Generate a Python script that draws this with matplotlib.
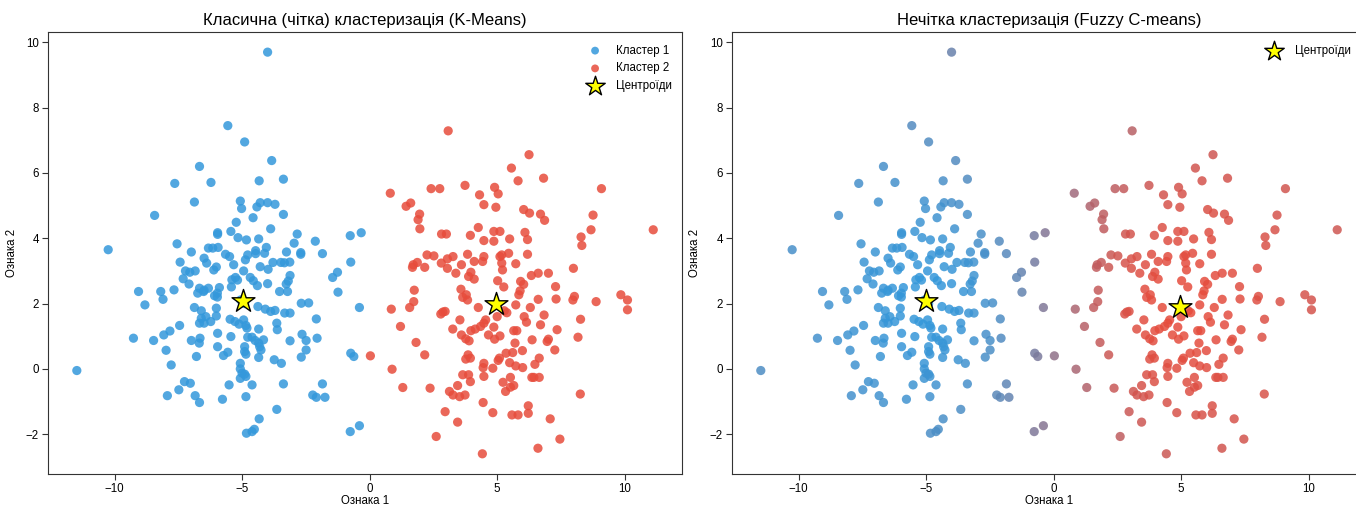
import matplotlib
matplotlib.use("Agg")
import matplotlib.pyplot as plt
import matplotlib.colors as mcolors
import numpy as np

plt.rcParams['font.family'] = ['Liberation Sans', 'DejaVu Sans']

# Кластер 1 (blue)
c1_x = [-4.0, -5.56, -4.90, -3.84, -6.67, -7.64, -6.22, -4.33, -3.38, -6.87, -5.07, -5.02,
        -4.29, -4.0, -3.71, -4.42, -8.43, -3.38, -4.57, -5.23, -3.88, -5.96, -5.96, -5.44,
        -5.16, -4.83, -4.35, -2.84, -2.13, -0.76, -0.33, -10.25, -7.55, -6.99, -6.32, -6.15,
        -5.94, -5.65, -5.49, -4.47, -4.47, -4.12, -4.05, -4.78, -4.87, -3.26, -2.96, -2.70,
        -2.70, -1.85, -7.43, -6.49, -6.39, -5.33, -6.01, -6.11, -4.94, -4.29, -3.98, -3.79,
        -3.48, -3.34, -3.13, -7.22, -7.05, -6.84, -7.31, -7.08, -6.67, -6.49, -6.32, -5.89,
        -5.40, -5.26, -5.18, -4.68, -4.56, -4.40, -4.00, -3.12, -3.19, -3.27, -1.26, -1.45,
        -0.74, -9.06, -8.19, -8.10, -7.67, -6.74, -6.51, -5.97, -6.08, -5.97, -5.42, -3.53,
        -3.22, -1.24, -8.81, -6.87, -6.60, -6.01, -4.09, -3.88, -3.71, -2.68, -2.39, -0.40,
        -5.06, -4.90, -4.38, -6.60, -6.67, -6.49, -6.42, -6.01, -6.23, -5.47, -4.94, -5.28,
        -5.12, -4.85, -3.64, -3.33, -3.12, -2.09, -7.45, -9.26, -8.47, -8.07, -7.83, -6.99,
        -6.65, -6.68, -5.96, -5.44, -4.81, -4.78, -4.35, -4.61, -4.49, -4.16, -3.62, -3.12,
        -2.65, -2.49, -2.06, -4.90, -4.90, -4.35, -4.31, -4.26, -5.96, -5.56, -5.73, -7.98,
        -6.79, -4.85, -4.35, -3.74, -3.46, -2.68, -2.49, -0.74, -0.62, -7.78, -5.07, -5.07,
        -5.00, -4.90, -5.07, -4.85, -11.48, -7.26, -7.03, -5.51, -4.61, -3.38, -1.85, -7.48,
        -7.93, -6.84, -6.67, -5.77, -4.85, -2.23, -2.09, -1.75, -3.64, -4.33, -4.83, -4.61,
        -4.52, -0.76, -0.40]
c1_y = [9.70, 7.45, 6.95, 6.38, 6.20, 5.68, 5.71, 5.76, 5.81, 5.11, 5.14, 4.91,
        5.09, 5.09, 5.04, 4.96, 4.70, 4.73, 4.63, 4.49, 4.29, 4.17, 4.12, 4.21,
        4.02, 3.95, 3.98, 4.13, 3.91, 4.08, 4.17, 3.65, 3.83, 3.58, 3.70, 3.70,
        3.72, 3.51, 3.44, 3.62, 3.53, 3.54, 3.72, 3.49, 3.34, 3.58, 3.85, 3.56,
        3.51, 3.53, 3.27, 3.39, 3.24, 3.19, 3.12, 3.03, 3.00, 3.13, 3.05, 3.26,
        3.26, 3.25, 3.27, 3.00, 2.96, 3.00, 2.76, 2.60, 2.47, 2.41, 2.47, 2.49,
        2.73, 2.80, 2.72, 2.80, 2.70, 2.55, 2.61, 2.86, 2.69, 2.60, 2.96, 2.80,
        3.27, 2.37, 2.37, 2.13, 2.42, 2.32, 2.37, 2.32, 2.24, 2.20, 2.51, 2.37,
        2.37, 2.35, 1.96, 1.88, 1.78, 1.86, 1.83, 1.76, 1.79, 2.01, 2.02, 1.88,
        2.11, 2.00, 1.91, 1.55, 1.40, 1.40, 1.60, 1.62, 1.45, 1.52, 1.50, 1.45,
        1.37, 1.33, 1.40, 1.71, 1.71, 1.53, 1.33, 0.94, 0.87, 1.04, 1.16, 0.87,
        0.94, 0.79, 1.09, 0.99, 1.25, 0.97, 1.22, 0.97, 0.87, 0.89, 1.20, 0.86,
        1.06, 0.87, 0.94, 0.68, 0.53, 0.79, 0.68, 0.58, 0.68, 0.51, 0.41, 0.57,
        0.38, 0.45, 0.35, 0.28, 0.17, 0.36, 0.58, 0.48, 0.38, 0.12, 0.17, 0.00,
        -0.13, -0.16, -0.29, -0.23, -0.05, -0.39, -0.44, -0.49, -0.49, -0.46, -0.46, -0.64,
        -0.82, -0.82, -1.03, -0.93, -0.85, -0.80, -0.87, -0.87, -1.24, -1.53, -1.97, -1.92,
        -1.85, -1.92, -1.74]

# Кластер 2 (red)
c2_x = [3.08, 6.25, 5.56, 5.82, 6.82, 0.81, 2.41, 2.75, 3.74, 4.31, 4.90, 5.04,
        9.09, 1.43, 1.61, 4.48, 4.95, 6.04, 6.27, 6.70, 6.86, 1.96, 1.90, 1.97,
        8.76, 4.26, 11.12, 8.68, 2.82, 3.01, 3.95, 4.87, 5.11, 4.48, 4.87, 5.49,
        6.09, 6.19, 8.29, 8.32, 2.25, 2.52, 3.27, 3.84, 4.48, 5.18, 5.11, 5.45,
        6.19, 4.43, 3.05, 1.71, 2.16, 1.87, 1.68, 2.81, 3.05, 3.60, 4.10, 5.18,
        5.73, 7.99, 3.38, 3.97, 3.88, 4.10, 5.21, 6.34, 6.61, 7.01, 5.92, 6.04,
        5.02, 1.75, 3.58, 3.79, 3.65, 3.84, 5.26, 5.90, 5.85, 7.29, 8.03, 7.97,
        9.85, 10.11, 8.88, 1.73, 0.85, 1.57, 2.87, 2.96, 2.79, 4.26, 5.73, 5.28,
        5.38, 6.30, 6.61, 7.31, 10.11, 6.84, 6.06, 3.54, 4.55, 4.48, 5.00, 8.27,
        6.15, 6.70, 1.21, 3.26, 3.97, 4.14, 4.35, 4.87, 5.65, 5.77, 7.35, 3.60,
        3.77, 3.90, 4.66, 5.11, 4.90, 5.70, 6.37, 7.01, 6.96, 8.17, 1.82, 5.99,
        5.35, 5.61, 7.26, 0.03, 2.16, 3.86, 3.77, 3.95, 5.09, 5.04, 6.65, 4.48,
        5.49, 5.73, 6.00, 6.48, 4.45, 4.83, 0.88, 3.65, 3.88, 4.48, 5.52, 6.36,
        6.65, 6.44, 3.95, 5.23, 1.30, 2.37, 3.45, 5.65, 5.52, 5.33, 3.13, 3.27,
        3.53, 3.74, 8.26, 4.45, 6.22, 6.22, 2.96, 4.83, 5.58, 5.82, 7.08, 3.45,
        2.61, 7.46, 6.60, 4.42]
c2_y = [7.29, 6.56, 6.15, 5.76, 5.84, 5.38, 5.52, 5.52, 5.62, 5.33, 5.56, 5.36,
        5.52, 4.98, 5.08, 5.03, 4.95, 4.88, 4.77, 4.74, 4.55, 4.74, 4.57, 4.29,
        4.71, 4.33, 4.26, 4.26, 4.13, 4.13, 4.09, 4.21, 4.21, 3.93, 3.91, 3.98,
        4.18, 3.96, 4.04, 3.78, 3.49, 3.46, 3.44, 3.51, 3.44, 3.49, 3.44, 3.54,
        3.51, 3.29, 3.37, 3.19, 3.11, 3.26, 3.11, 3.24, 3.08, 3.19, 3.29, 3.24,
        3.22, 3.08, 2.93, 2.96, 2.83, 2.75, 3.03, 2.86, 2.93, 2.93, 2.68, 2.59,
        2.70, 2.41, 2.44, 2.27, 2.19, 2.11, 2.51, 2.39, 2.27, 2.52, 2.22, 2.11,
        2.27, 2.11, 2.06, 2.06, 1.83, 1.88, 1.74, 1.76, 1.68, 1.88, 1.96, 1.78,
        1.72, 1.88, 2.13, 2.14, 1.81, 1.65, 1.60, 1.50, 1.50, 1.40, 1.60, 1.52,
        1.43, 1.35, 1.30, 1.22, 1.17, 1.22, 1.30, 1.28, 1.17, 1.17, 1.20, 1.04,
        0.92, 0.86, 1.04, 1.01, 0.91, 0.79, 0.89, 0.91, 0.84, 0.97, 0.81, 0.56,
        0.48, 0.50, 0.58, 0.40, 0.43, 0.43, 0.30, 0.33, 0.33, 0.26, 0.33, 0.17,
        0.19, 0.09, 0.04, 0.14, 0.04, 0.02, -0.01, -0.18, -0.18, -0.23, -0.26, -0.26,
        -0.26, -0.26, -0.39, -0.41, -0.57, -0.59, -0.51, -0.51, -0.56, -0.69, -0.69, -0.80,
        -0.85, -0.80, -0.77, -1.03, -1.13, -1.36, -1.31, -1.34, -1.41, -1.41, -1.53, -1.63,
        -2.07, -2.15, -2.43, -2.60]

# centroids
km_cx = [-4.97, 4.94]
km_cy = [2.09, 1.98]
fcm_cx = [-5.00, 4.97]
fcm_cy = [2.07, 1.90]

blue = '#3498db'
red = '#e74c3c'

fig = plt.figure(figsize=(13.56, 5.09), dpi=100)
ax1 = fig.add_axes([0.0354, 0.069, 0.4676, 0.868])
ax2 = fig.add_axes([0.5398, 0.069, 0.4676, 0.868])

# K-Means
ax1.scatter(c1_x, c1_y, s=44, c=blue, alpha=0.85, label='Кластер 1', edgecolors='none')
ax1.scatter(c2_x, c2_y, s=44, c=red, alpha=0.85, label='Кластер 2', edgecolors='none')
ax1.scatter(km_cx, km_cy, s=300, marker='*', c='yellow', edgecolors='black', linewidths=1,
            label='Центроїди', zorder=5)
ax1.set_title('Класична (чітка) кластеризація (K-Means)', fontsize=12, pad=5)
ax1.legend(loc='upper right', frameon=False, fontsize=8.3, markerscale=0.85,
           bbox_to_anchor=(1.0, 0.995))

# Fuzzy C-means: colour by membership of all points
all_x = np.array(c1_x + c2_x)
all_y = np.array(c1_y + c2_y)
d1 = np.hypot(all_x - fcm_cx[0], all_y - fcm_cy[0])
d2 = np.hypot(all_x - fcm_cx[1], all_y - fcm_cy[1])
u1 = 1.0 / (1.0 + (d1 / d2) ** 2)
rb = np.array(mcolors.to_rgb(blue))
rr = np.array(mcolors.to_rgb(red))
cols = u1[:, None] * rb + (1 - u1[:, None]) * rr
ax2.scatter(all_x, all_y, s=44, c=cols, alpha=0.85, edgecolors='none')
ax2.scatter(fcm_cx, fcm_cy, s=300, marker='*', c='yellow', edgecolors='black', linewidths=1,
            label='Центроїди', zorder=5)
ax2.set_title('Нечітка кластеризація (Fuzzy C-means)', fontsize=12, pad=5)
ax2.legend(loc='upper right', frameon=False, fontsize=8.3, markerscale=0.85,
           bbox_to_anchor=(0.992, 0.995))

for ax in (ax1, ax2):
    ax.set_xlabel('Ознака 1', fontsize=8.3, labelpad=0)
    ax.set_ylabel('Ознака 2', fontsize=8.3, labelpad=6)
    ax.tick_params(labelsize=8.3, length=4, pad=2.5, color='#333333')
    ax.set_xticks([-10, -5, 0, 5, 10])
    ax.set_yticks([-2, 0, 2, 4, 6, 8, 10])
    for sp in ax.spines.values():
        sp.set_color('#333333')

plt.savefig('out.png', dpi=100)
